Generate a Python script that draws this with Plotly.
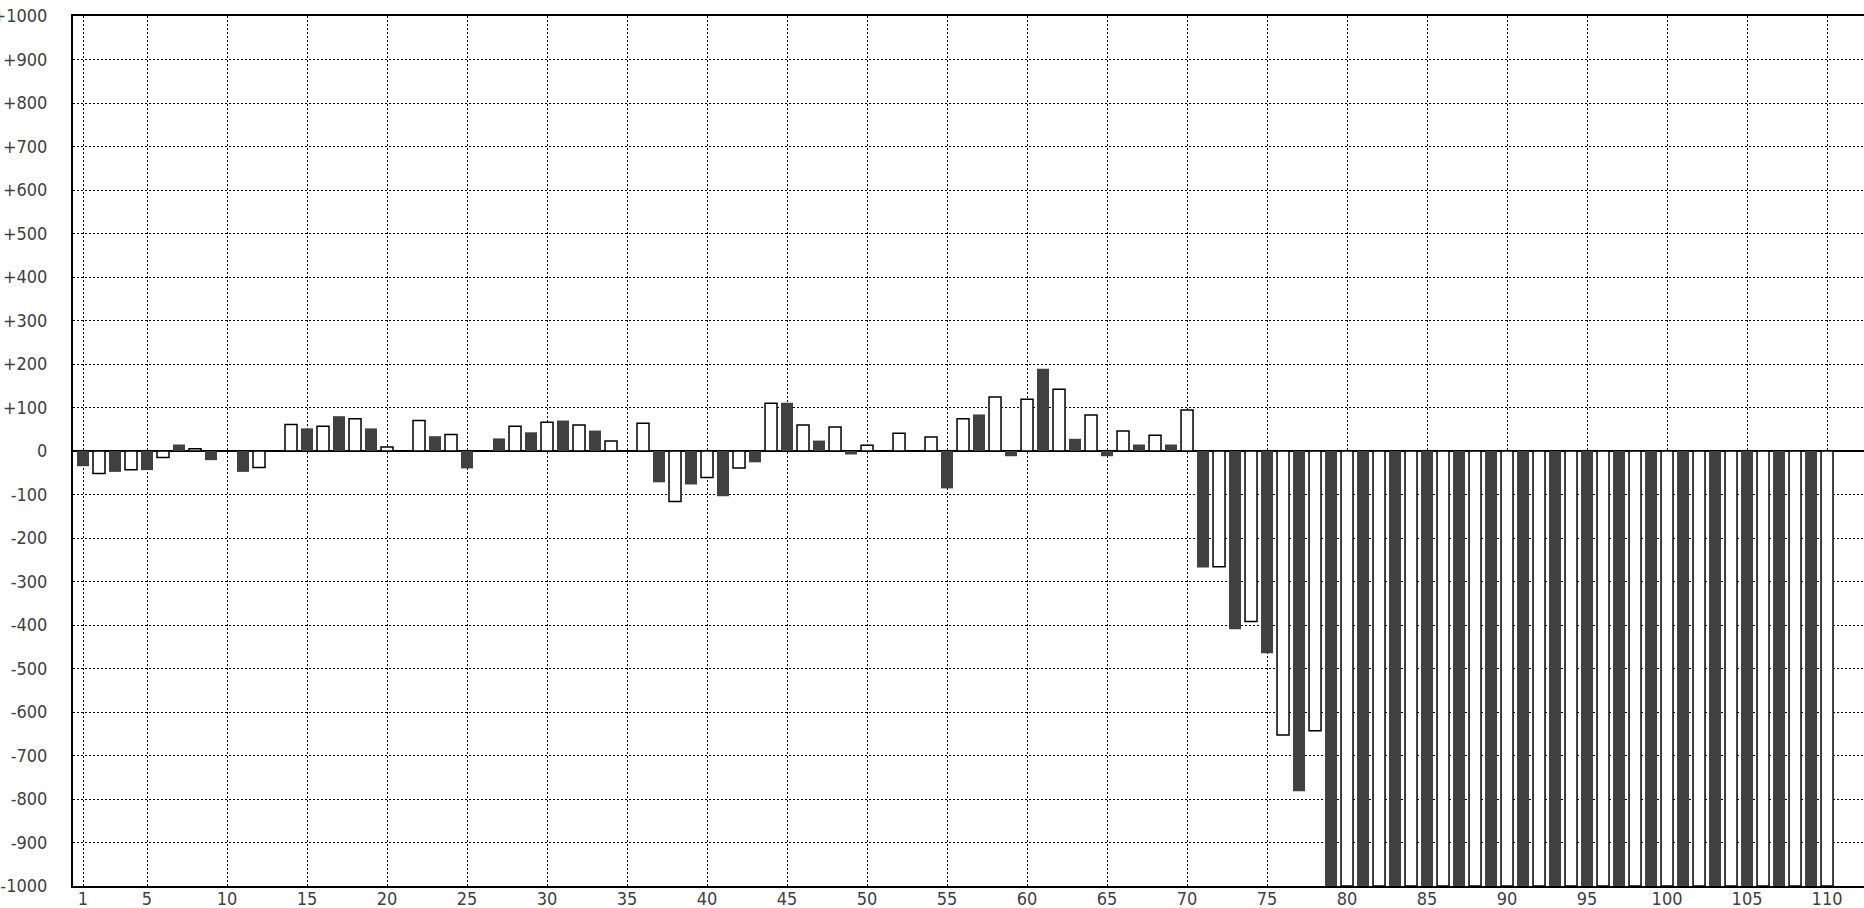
import plotly.graph_objects as go

# Dark series (odd positions 1..109)
dark_x = list(range(1, 110, 2))
dark_vals = [-35, -48, -44, 15, -21, -48, 0, 52, 80, 52,
             0, 34, -40, 29, 43, 70, 47, 0, -72, -77,
             -104, -26, 111, 24, -8, 0, 0, -86, 84, -12,
             189, 28, -12, 15, 15, -268, -410, -465, -782,
             -1000, -1000, -1000, -1000, -1000, -1000, -1000, -1000,
             -1000, -1000, -1000, -1000, -1000, -1000, -1000, -1000]

# White series (even positions 2..110)
white_x = list(range(2, 111, 2))
white_vals = [-52, -43, -15, 5, 0, -38, 61, 57, 74, 9,
              70, 38, 0, 57, 66, 60, 23, 64, -116, -61,
              -39, 110, 60, 55, 13, 41, 32, 74, 124, 119,
              142, 83, 46, 36, 94, -266, -392, -653, -643,
              -1000, -1000, -1000, -1000, -1000, -1000, -1000, -1000,
              -1000, -1000, -1000, -1000, -1000, -1000, -1000, -1000]

x_ticks = [1] + list(range(5, 111, 5))
y_ticks = list(range(-1000, 1001, 100))
y_labels = [("+%d" % v if v > 0 else str(v)) for v in y_ticks]

fig = go.Figure()
fig.add_trace(go.Bar(x=dark_x, y=dark_vals, width=0.75,
                     marker=dict(color="#404040", line=dict(width=0))))
fig.add_trace(go.Bar(x=white_x, y=white_vals, width=0.75,
                     marker=dict(color="#ffffff", line=dict(color="#000000", width=1.5))))

font = dict(family="DejaVu Sans Condensed, DejaVu Sans, sans-serif", size=18, color="#404040")

fig.update_layout(
    width=1864, height=908,
    margin=dict(l=73, r=0, t=16, b=22, autoexpand=False),
    paper_bgcolor="white", plot_bgcolor="white",
    barmode="overlay", showlegend=False,
    font=font,
)
fig.update_xaxes(
    range=[0.375, 112.31], tickmode="array", tickvals=x_ticks,
    ticktext=[str(v) for v in x_ticks], automargin=False,
    showgrid=True, gridcolor="#000000", gridwidth=1, griddash="2px,2px",
    showline=True, linecolor="#000000", linewidth=2, mirror=True,
    ticks="", zeroline=False, ticklabelstandoff=-5,
)
fig.update_yaxes(
    range=[-1000, 1000], tickmode="array", tickvals=y_ticks, ticktext=y_labels,
    automargin=False,
    showgrid=True, gridcolor="#000000", gridwidth=1, griddash="2px,2px",
    showline=True, linecolor="#000000", linewidth=2, mirror=False,
    zeroline=True, zerolinecolor="#000000", zerolinewidth=2,
    ticks="", ticklabelstandoff=20,
)

fig.write_html("out.html", config={"displayModeBar": False},
               post_script="document.body.style.margin='0';")
